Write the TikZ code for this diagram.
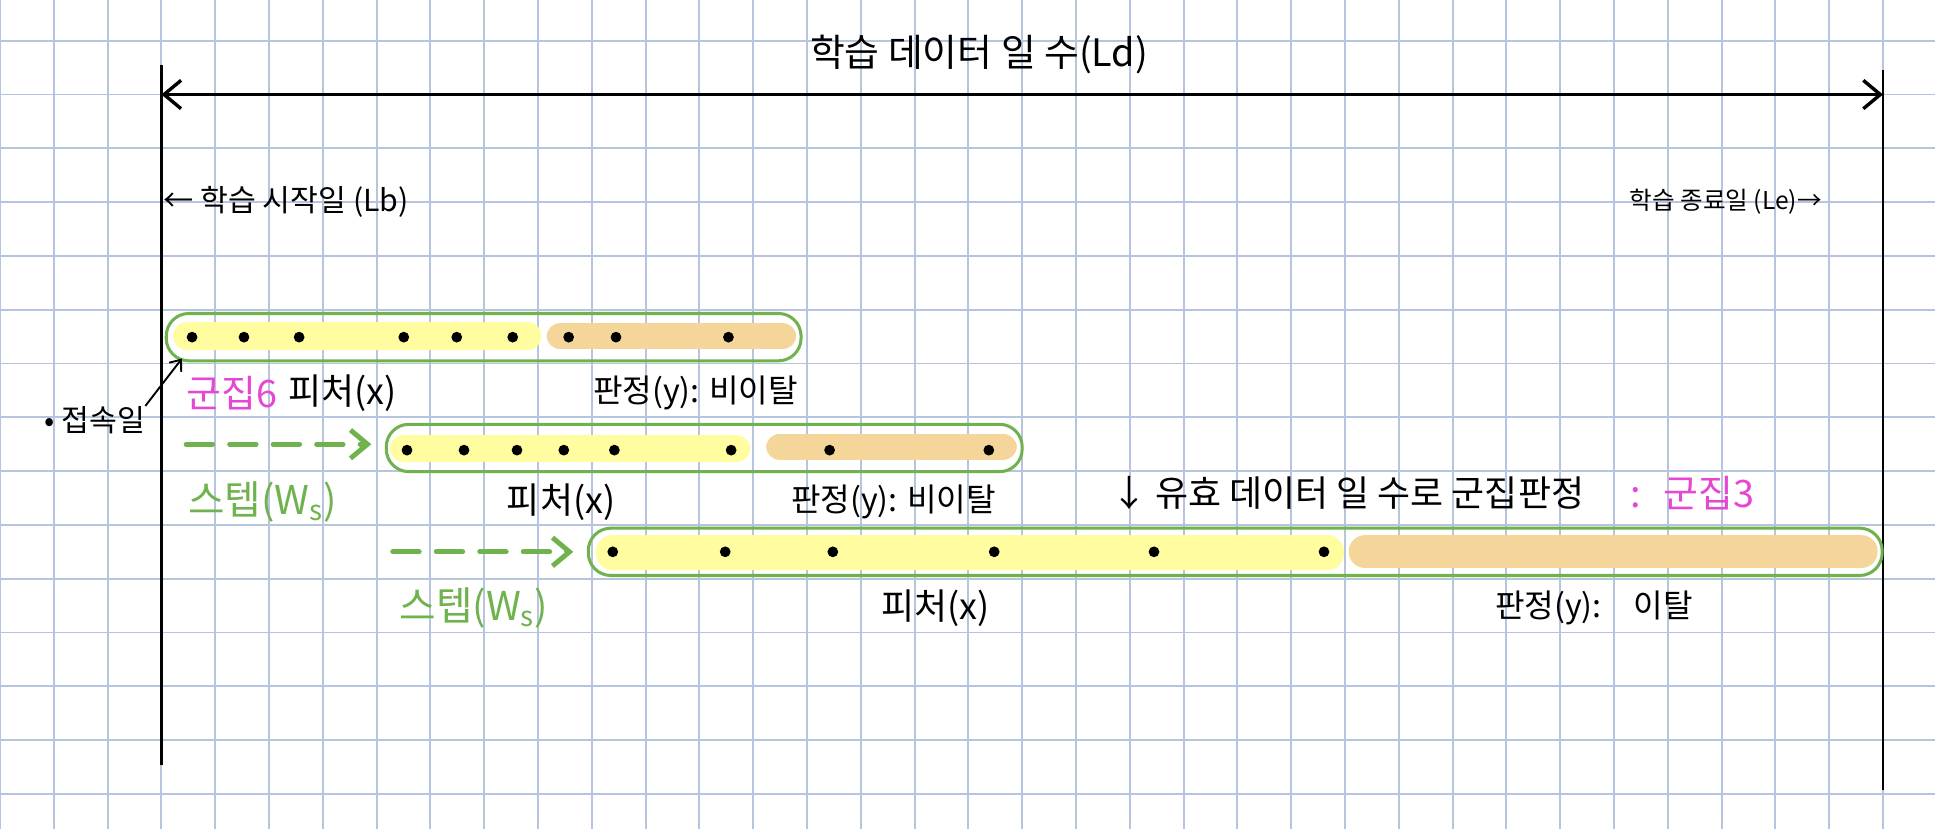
\documentclass[tikz,border=0pt]{standalone}
\usepackage{fontspec}
\setmainfont{Noto Sans CJK KR}
\usepackage{xcolor}
\usepackage{tikz}
\usetikzlibrary{arrows.meta, positioning, calc}
\definecolor{gridblue}{RGB}{182,196,222}
\definecolor{wingreen}{RGB}{112,178,78}
\definecolor{featyellow}{RGB}{255,253,160}
\definecolor{labeltan}{RGB}{244,214,155}
\definecolor{clusterpink}{RGB}{230,70,210}

\begin{document}
\begin{tikzpicture}[
  win/.style={draw=wingreen, line width=1.6pt, rounded corners=0.42cm, minimum height=0.88cm, inner sep=0pt},
  txt/.style={inner sep=0pt, font=\fontsize{17}{20}\selectfont},
  feat/.style={txt, font=\fontsize{19}{22}\selectfont},
  steparrow/.style={wingreen, line width=2.6pt, line cap=round, dash pattern=on 14pt off 9pt, shorten >=0.25cm, -{Straight Barb[length=9pt,width=15pt]}},
]
\useasboundingbox (0,0.757) rectangle (35.967,-14.652);
\fill[white] (0,0.757) rectangle (35.967,-14.652);

% Grid paper
\foreach \x in {0,...,35} \draw[gridblue, line width=1pt] (\x,0.757) -- (\x,-14.652);
\foreach \y in {0,...,14} \draw[gridblue, line width=1pt] (0,-\y) -- (35.967,-\y);

% Training period
\draw[line width=1.3pt] (3,-0.45) -- (3,-13.46);
\draw[line width=1.3pt] (35,-0.55) -- (35,-13.93);
\coordinate (lb) at (3,-1);
\coordinate (le) at (35,-1);
\draw[line width=1.8pt, {Straight Barb[length=9pt,width=15pt]}-{Straight Barb[length=9pt,width=15pt]}] (lb) -- (le);
\node[txt, font=\fontsize{20}{24}\selectfont] (ld) at (18.2,-0.26) {학습 데이터 일 수(Ld)};
\node[txt, font=\fontsize{16}{19}\selectfont, anchor=west] (start) at (3.03,-3.0) {← 학습 시작일 (Lb)};
\node[txt, font=\fontsize{13}{16}\selectfont, anchor=east] (end) at (33.87,-3.0) {학습 종료일 (Le)→};

% Highlights
\fill[featyellow, rounded corners=0.25cm] (3.22,-5.23) rectangle (10.06,-5.75);
\fill[labeltan, rounded corners=0.25cm] (10.16,-5.25) rectangle (14.8,-5.73);
\fill[featyellow, rounded corners=0.25cm] (7.25,-7.33) rectangle (13.94,-7.83);
\fill[labeltan, rounded corners=0.25cm] (14.24,-7.31) rectangle (18.9,-7.79);
\fill[featyellow, rounded corners=0.3cm] (11.08,-9.19) rectangle (24.98,-9.84);
\fill[labeltan, rounded corners=0.3cm] (25.07,-9.19) rectangle (34.9,-9.80);

% Windows
\node[win, minimum width=11.8cm] (w1) at (8.99,-5.51) {};
\node[win, minimum width=11.82cm] (w2) at (13.09,-7.57) {};
\node[win, minimum width=24.05cm] (w3) at (22.96,-9.5) {};

% Access days
\foreach \x in {3.57,4.535,5.56,7.505,8.49,9.53,10.57,11.45,13.54} \fill (\x,-5.51) circle (0.1);
\foreach \x in {7.565,8.625,9.61,10.48,11.42,13.59,15.42,18.38} \fill (\x,-7.61) circle (0.1);
\foreach \x in {11.39,13.48,15.48,18.48,21.45,24.61} \fill (\x,-9.5) circle (0.1);

\node[txt, font=\fontsize{16}{19}\selectfont] (conn) at (1.76,-7.05) {• 접속일};
\draw[line width=1pt, -{Straight Barb[length=5pt,width=8pt]}] (conn.north east) -- ([xshift=0.32cm,yshift=0.07cm]w1.south west);

% Row 1
\node[txt, font=\fontsize{20}{23}\selectfont, text=clusterpink, anchor=west] (c6) at (3.46,-6.55) {군집6};
\node[feat, anchor=west] (x1) at (5.35,-6.55) {피처(x)};
\node[txt] (y1) at (12.93,-6.55) {판정(y): 비이탈};

% Row 2
\coordinate (s2) at (3.46,-7.5);
\draw[steparrow] (s2) -- (s2 -| w2.west);
\node[txt, font=\fontsize{21}{24}\selectfont, text=wingreen, anchor=west] (ws2) at (3.49,-8.57) {스텝(W\textsubscript{s})};
\node[feat] (x2) at (10.43,-8.57) {피처(x)};
\node[txt] (y2) at (16.61,-8.57) {판정(y): 비이탈};
\node[txt, font=\fontsize{19}{22}\selectfont, anchor=west] (valid) at (20.65,-8.41) {↓ 유효 데이터 일 수로 군집판정};
\node[txt, font=\fontsize{20}{23}\selectfont, text=clusterpink, anchor=west] (c3) at (30.3,-8.41) {:\hspace{0.6em}군집3};

% Row 3
\coordinate (s3) at (7.30,-9.5);
\draw[steparrow] (s3) -- (s3 -| w3.west);
\node[txt, font=\fontsize{21}{24}\selectfont, text=wingreen, anchor=west] (ws3) at (7.42,-10.54) {스텝(W\textsubscript{s})};
\node[feat] (x3) at (17.39,-10.54) {피처(x)};
\node[txt] (y3) at (29.63,-10.54) {판정(y):\quad 이탈};
\end{tikzpicture}
\end{document}
